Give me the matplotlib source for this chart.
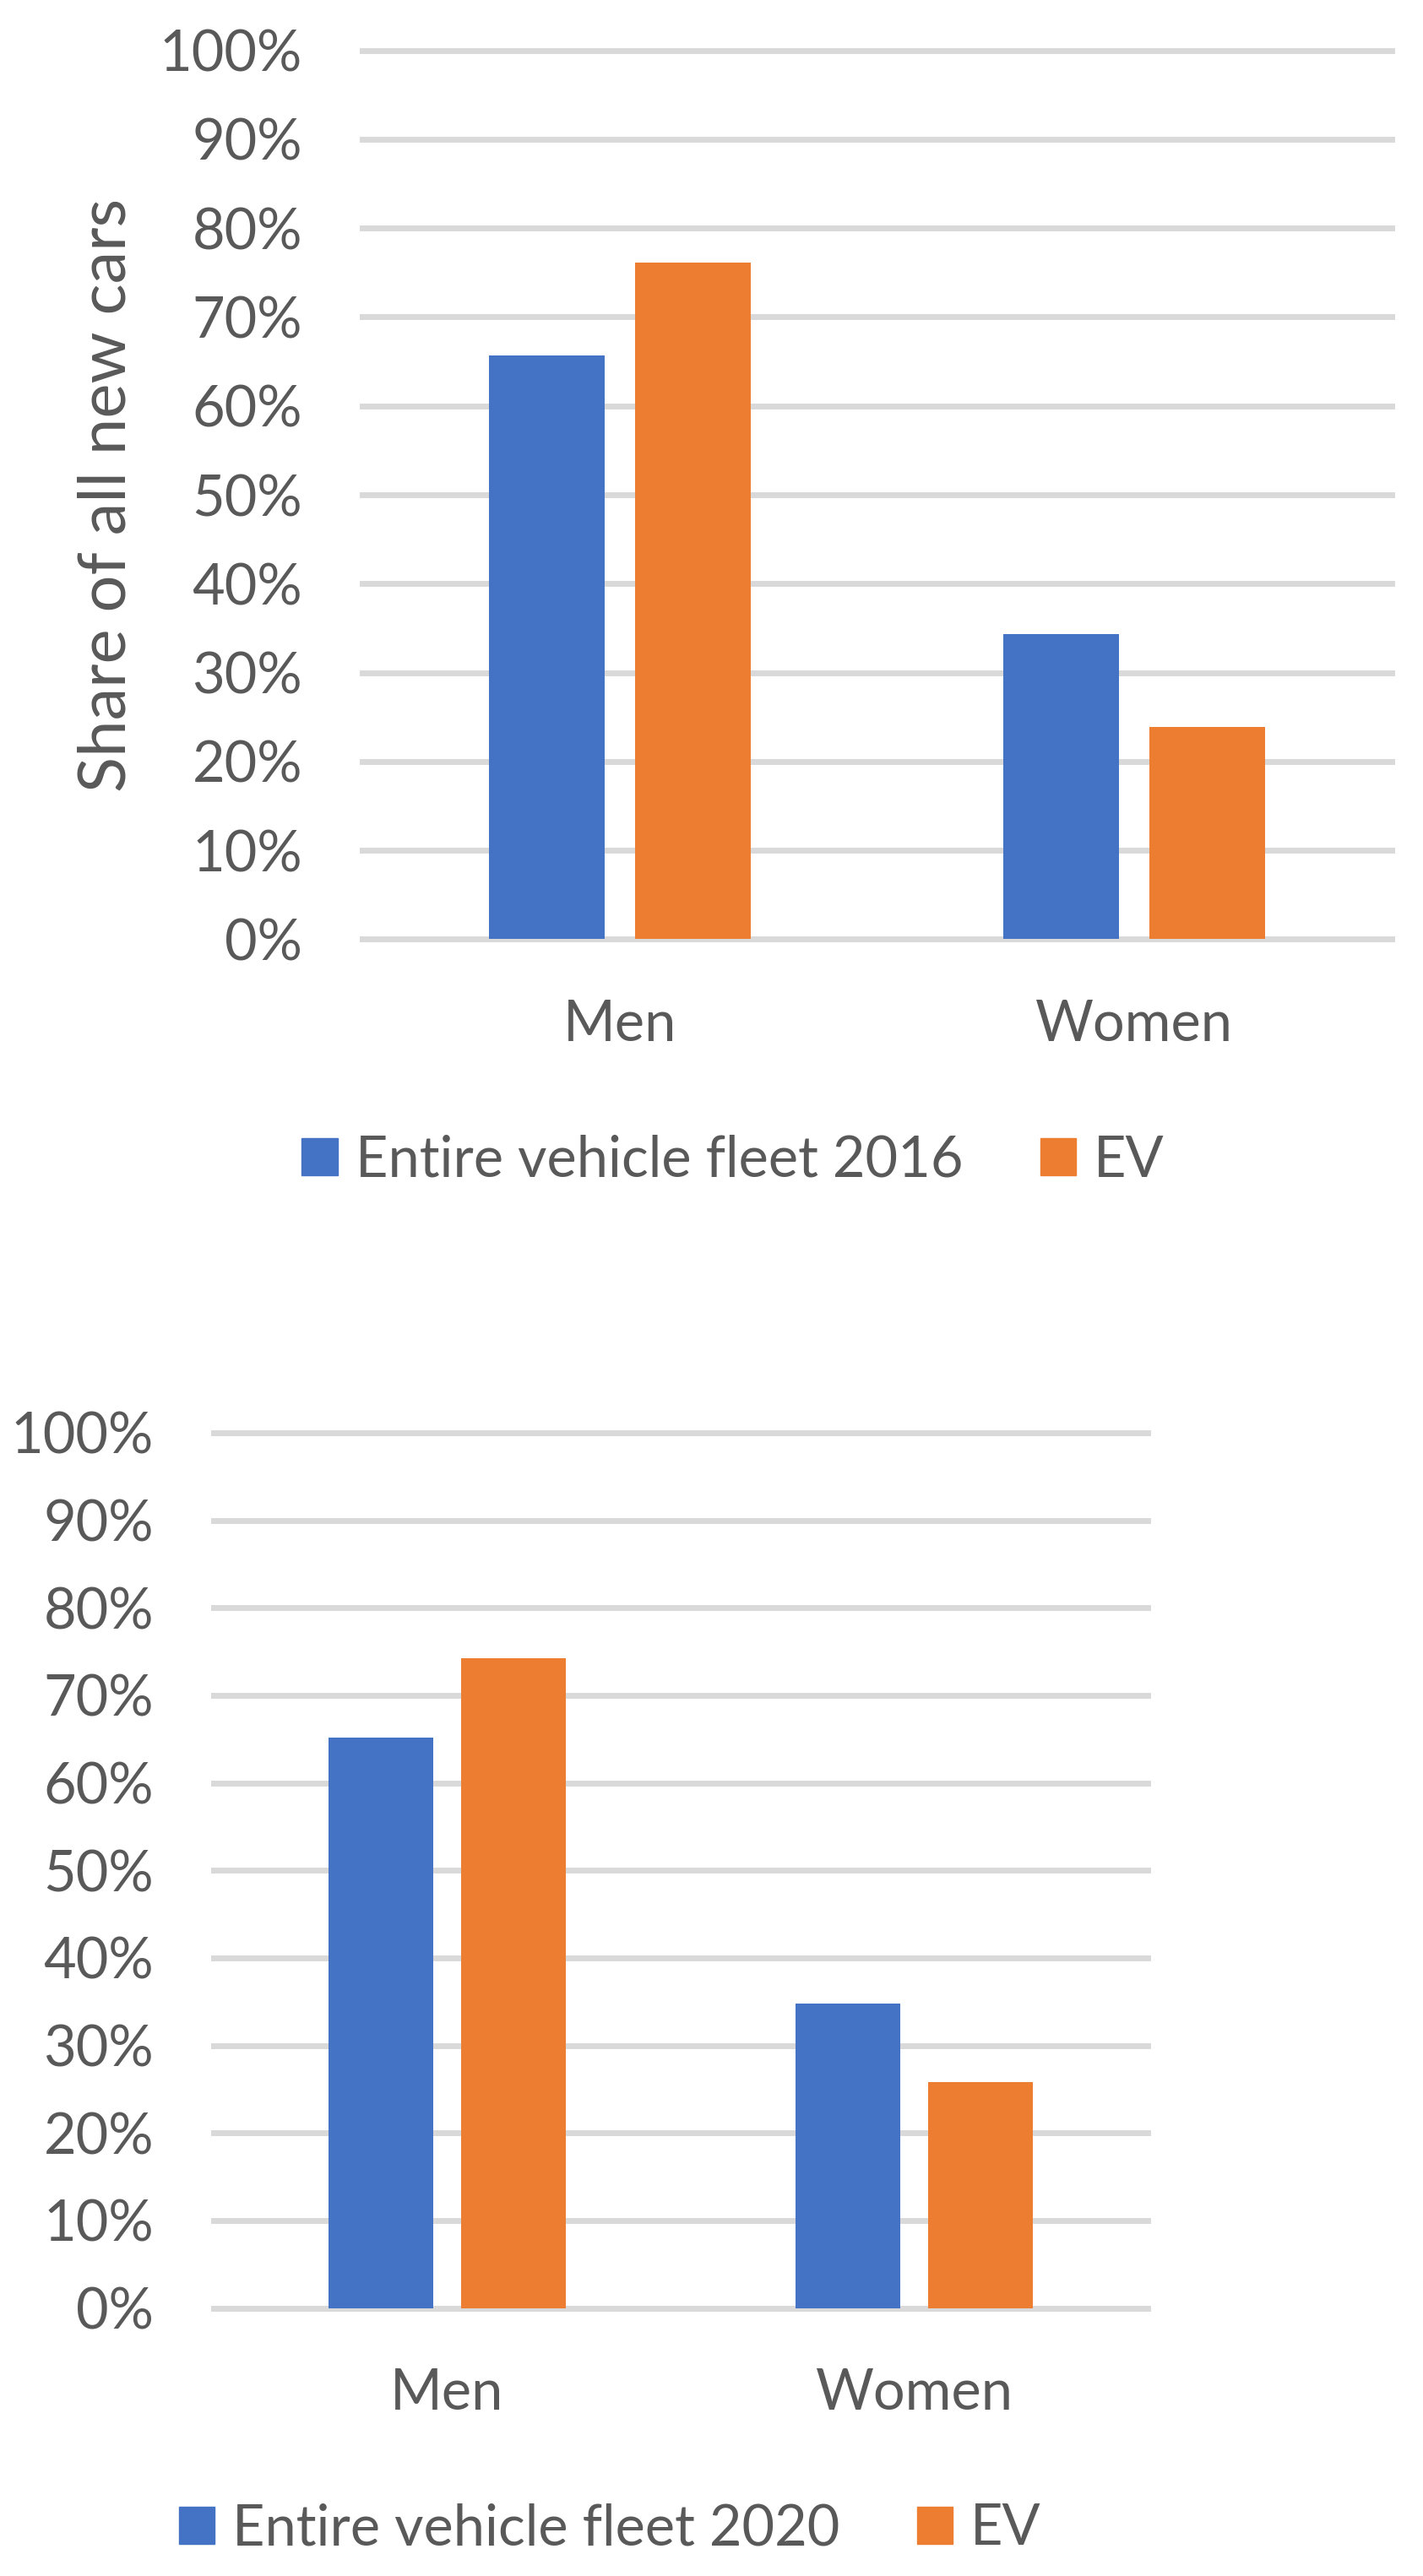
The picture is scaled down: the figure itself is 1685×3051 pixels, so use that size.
import matplotlib.pyplot as plt
from matplotlib.patches import Patch
import numpy as np

plt.rcParams["font.family"] = ["Lato", "DejaVu Sans"]

categories = ["Men", "Women"]
fleet_2016 = [0.657, 0.343]
ev_2016 = [0.761, 0.239]
fleet_2020 = [0.652, 0.348]
ev_2020 = [0.742, 0.258]
y_ticks = [0.0, 0.1, 0.2, 0.3, 0.4, 0.5, 0.6, 0.7, 0.8, 0.9, 1.0]
y_tick_labels = ["0%", "10%", "20%", "30%", "40%", "50%", "60%", "70%", "80%", "90%", "100%"]

BLUE = "#4472C4"
ORANGE = "#ED7D31"
GRID = "#D9D9D9"
TEXT = "#595959"
FS = 48

W, H = 1685, 3051
fig = plt.figure(figsize=(W / 100, H / 100), dpi=100)


def px_axes(left, right, top, bottom):
    # pixel box -> figure fraction
    return [left / W, 1 - bottom / H, (right - left) / W, (bottom - top) / H]


def draw_panel(ax, fleet, ev, legend_label, legend_center, ylabel=None):
    x = np.arange(len(categories))
    width = 0.225
    off = 0.142
    ax.bar(x - off, fleet, width, color=BLUE, zorder=3)
    ax.bar(x + off, ev, width, color=ORANGE, zorder=3)

    ax.set_xlim(-0.5, 1.5)
    ax.set_ylim(0, 1)
    ax.set_xticks(x)
    ax.set_xticklabels(categories)
    ax.set_yticks(y_ticks)
    ax.set_yticklabels(y_tick_labels)
    ax.yaxis.grid(True, color=GRID, linewidth=5, zorder=0)
    for t in ax.yaxis.get_major_ticks():
        t.gridline.set_clip_on(False)
    ax.set_axisbelow(True)
    for s in ax.spines.values():
        s.set_visible(False)
    ax.tick_params(axis="y", length=0, pad=51, labelsize=FS, labelcolor=TEXT)
    ax.tick_params(axis="x", length=0, pad=51, labelsize=FS, labelcolor=TEXT)

    if ylabel:
        ax.set_ylabel(ylabel, fontsize=56, color=TEXT, va="center")
        ax.yaxis.set_label_coords(-0.248, 0.5)

    handles = [Patch(color=BLUE), Patch(color=ORANGE)]
    fig.legend(handles, [legend_label, "EV"], loc="center",
               bbox_to_anchor=(legend_center[0] / W, 1 - legend_center[1] / H),
               ncol=2, frameon=False, fontsize=FS, labelcolor=TEXT,
               handlelength=0.64, handleheight=0.64, handletextpad=0.31,
               columnspacing=1.37, borderpad=0, borderaxespad=0)


ax1 = fig.add_axes(px_axes(429, 1648, 59.5, 1112.5))
draw_panel(ax1, fleet_2016, ev_2016, "Entire vehicle fleet 2016", (868, 1374.5),
           ylabel="Share of all new cars")

ax2 = fig.add_axes(px_axes(253, 1359, 1697, 2733.5))
draw_panel(ax2, fleet_2020, ev_2020, "Entire vehicle fleet 2020", (722, 2995.5))

fig.savefig("out.png", dpi=100)
